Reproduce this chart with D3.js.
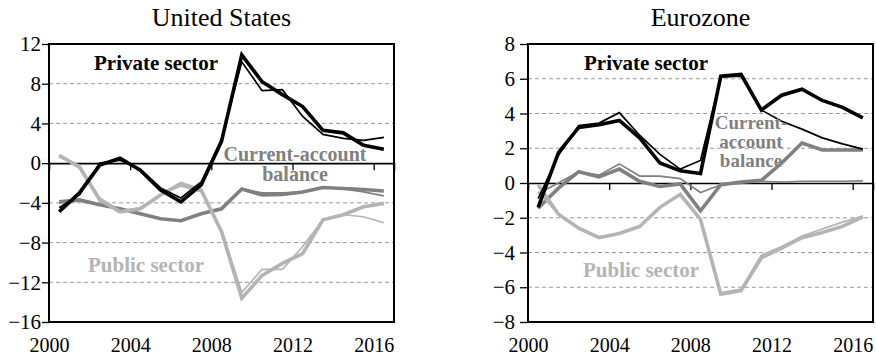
<!DOCTYPE html>
<html>
<head>
<meta charset="utf-8">
<script src="https://cdn.jsdelivr.net/npm/d3@7"></script>
<style>
  html, body { margin: 0; padding: 0; background: #fff; }
  svg { display: block; }
  text { font-family: "Liberation Serif", "Times New Roman", serif; }
</style>
</head>
<body>
<svg id="chart" width="876" height="357"></svg>
<script>
// Annual sector balances, % of GDP (years 2000-2016)
const years = d3.range(2000, 2017);
const xTicks = [2000, 2004, 2008, 2012, 2016];

// United States
const usPrivate     = [-4.9, -3.0, -0.2, 0.5, -0.7, -2.7, -3.9, -2.2, 2.2, 10.9, 8.2, 6.9, 5.7, 3.3, 3.05, 1.8, 1.4];
const usPrivateAlt  = [-4.5, -3.2, 0.0, 0.3, -0.6, -2.5, -3.5, -1.9, 2.4, 10.2, 7.3, 7.4, 4.7, 2.9, 2.5, 2.3, 2.6];
const usCurrent     = [-3.9, -3.7, -4.2, -4.6, -5.1, -5.6, -5.8, -5.1, -4.6, -2.6, -3.2, -3.15, -2.9, -2.45, -2.55, -2.65, -2.8];
const usCurrentAlt  = [-4.0, -3.8, -4.2, -4.6, -5.1, -5.6, -5.8, -5.1, -4.7, -2.6, -3.0, -3.0, -2.9, -2.4, -2.6, -2.9, -3.3];
const usPublic      = [0.8, -0.4, -3.7, -4.9, -4.6, -3.2, -2.05, -2.7, -6.9, -13.6, -11.3, -10.1, -9.1, -5.7, -5.2, -4.4, -4.05];
const usPublicAlt   = [0.6, -0.2, -3.5, -4.8, -4.5, -3.1, -2.3, -2.9, -6.7, -13.0, -10.7, -10.7, -8.4, -5.7, -5.2, -5.4, -6.0];
const usYTicks = [12, 8, 4, 0, -4, -8, -12, -16];

// Eurozone
const euPrivate     = [-1.4, 1.75, 3.2, 3.35, 3.6, 2.6, 1.15, 0.7, 0.55, 6.15, 6.25, 4.2, 5.05, 5.4, 4.75, 4.35, 3.75];
const euPrivateAlt  = [-0.9, 1.6, 3.3, 3.45, 4.05, 2.75, 1.65, 0.8, 1.3, 6.1, 6.15, 4.2, 3.55, 3.1, 2.6, 2.25, 1.95];
const euCurrent     = [-1.45, -0.3, 0.65, 0.35, 0.8, 0.1, -0.2, -0.05, -1.6, -0.1, 0.05, 0.15, 1.15, 2.3, 1.9, 1.9, 1.9];
const euCurrentAlt  = [-0.6, 0.0, 0.65, 0.45, 1.1, 0.4, 0.4, 0.25, -0.55, -0.1, 0.05, 0.1, 0.05, 0.1, 0.1, 0.1, 0.12];
const euPublic      = [-0.1, -1.8, -2.6, -3.15, -2.9, -2.5, -1.4, -0.65, -2.1, -6.4, -6.2, -4.3, -3.75, -3.15, -2.85, -2.5, -1.95];
const euPublicAlt   = [-0.5, -1.8, -2.6, -3.1, -2.9, -2.5, -1.4, -0.7, -2.1, -6.3, -6.1, -4.15, -3.65, -3.05, -2.65, -2.25, -1.9];
const euYTicks = [8, 6, 4, 2, 0, -2, -4, -6, -8];

const C_PRIVATE = "#000000";
const C_CURRENT = "#808080";
const C_PUBLIC  = "#b4b4b4";

const svg = d3.select("#chart");

function panel(opt) {
  const { left, right, top, bottom, yDomain, yTicks, title, series, labels, tickSize, tickPad } = opt;
  const x = d3.scaleLinear().domain([2000, 2017]).range([left, right]);
  const y = d3.scaleLinear().domain(yDomain).range([bottom, top]);
  const g = svg.append("g");

  // title
  g.append("text")
    .attr("x", (left + right) / 2).attr("y", 26)
    .attr("text-anchor", "middle")
    .attr("font-size", 26)
    .attr("fill", "#000")
    .text(title);

  // dashed gridlines
  g.append("g").selectAll("line")
    .data(yTicks.filter(v => v !== 0 && v !== yDomain[0] && v !== yDomain[1]))
    .join("line")
    .attr("x1", left).attr("x2", right)
    .attr("y1", d => y(d)).attr("y2", d => y(d))
    .attr("stroke", "#9a9a9a").attr("stroke-width", 1)
    .attr("stroke-dasharray", "4,3");

  // zero line with downward ticks
  const zero = g.append("g").attr("transform", `translate(0,${y(0)})`)
    .call(d3.axisBottom(x).tickValues(xTicks.slice(1)).tickSize(7).tickFormat(""));
  zero.select(".domain").attr("stroke", "#000").attr("stroke-width", 1.6);
  zero.selectAll(".tick line").attr("stroke", "#000").attr("stroke-width", 1.3);

  // y axis
  const ya = g.append("g").attr("transform", `translate(${left},0)`)
    .call(d3.axisLeft(y).tickValues(yTicks).tickSize(tickSize).tickPadding(tickPad).tickFormat(d3.format("d")));
  ya.select(".domain").remove();
  ya.selectAll(".tick line").attr("stroke", "#000").attr("stroke-width", 1.3);
  ya.selectAll(".tick text")
    .attr("font-family", '"Liberation Serif", serif')
    .attr("font-size", 21).attr("fill", "#000");

  // x axis labels
  const xa = g.append("g").attr("transform", `translate(0,${bottom})`)
    .call(d3.axisBottom(x).tickValues(xTicks).tickSize(0).tickPadding(16).tickFormat(d3.format("d")));
  xa.select(".domain").remove();
  xa.selectAll(".tick text")
    .attr("font-family", '"Liberation Serif", serif')
    .attr("font-size", 20).attr("fill", "#000");

  // data lines
  const line = d3.line().x((d, i) => x(years[i] + 0.5)).y(d => y(d));
  series.forEach(s => {
    g.append("path")
      .datum(s.values)
      .attr("d", line)
      .attr("fill", "none")
      .attr("stroke", s.color)
      .attr("stroke-width", s.width)
      .attr("stroke-linejoin", "miter")
      .attr("stroke-linecap", "butt");
  });

  // frame
  g.append("rect")
    .attr("x", left).attr("y", top)
    .attr("width", right - left).attr("height", bottom - top)
    .attr("fill", "none").attr("stroke", "#000").attr("stroke-width", 2);

  // series labels
  labels.forEach(l => {
    const t = g.append("text")
      .attr("x", l.x).attr("y", l.y)
      .attr("text-anchor", l.anchor || "start")
      .attr("font-size", l.size || 21).attr("font-weight", "bold")
      .attr("fill", l.color);
    l.lines.forEach((s, i) => {
      t.append("tspan").attr("x", l.x).attr("dy", i === 0 ? 0 : l.lh).text(s);
    });
  });
}

panel({
  left: 49, right: 394, top: 44, bottom: 322,
  yDomain: [-16, 12], yTicks: usYTicks, title: "United States",
  tickSize: 7, tickPad: 1,
  series: [
    { values: usCurrent, color: C_CURRENT, width: 3.6 },
    { values: usCurrentAlt, color: C_CURRENT, width: 1.7 },
    { values: usPublic, color: C_PUBLIC, width: 3.6 },
    { values: usPublicAlt, color: C_PUBLIC, width: 1.7 },
    { values: usPrivate, color: C_PRIVATE, width: 3.6 },
    { values: usPrivateAlt, color: C_PRIVATE, width: 1.7 }
  ],
  labels: [
    { x: 94, y: 70, color: C_PRIVATE, lines: ["Private sector"] },
    { x: 295, y: 161, color: C_CURRENT, anchor: "middle", lh: 20, size: 20, lines: ["Current-account", "balance"] },
    { x: 88, y: 272, color: C_PUBLIC, lines: ["Public sector"] }
  ]
});

panel({
  left: 528, right: 873, top: 44, bottom: 322,
  yDomain: [-8, 8], yTicks: euYTicks, title: "Eurozone",
  tickSize: 8, tickPad: 5,
  series: [
    { values: euCurrent, color: C_CURRENT, width: 3.6 },
    { values: euCurrentAlt, color: C_CURRENT, width: 1.7 },
    { values: euPublic, color: C_PUBLIC, width: 3.6 },
    { values: euPublicAlt, color: C_PUBLIC, width: 1.7 },
    { values: euPrivate, color: C_PRIVATE, width: 3.6 },
    { values: euPrivateAlt, color: C_PRIVATE, width: 1.7 }
  ],
  labels: [
    { x: 584, y: 70, color: C_PRIVATE, lines: ["Private sector"] },
    { x: 751, y: 129, color: C_CURRENT, anchor: "middle", lh: 19, size: 19, lines: ["Current-", "account", "balance"] },
    { x: 583, y: 277, color: C_PUBLIC, lines: ["Public sector"] }
  ]
});
</script>
</body>
</html>
